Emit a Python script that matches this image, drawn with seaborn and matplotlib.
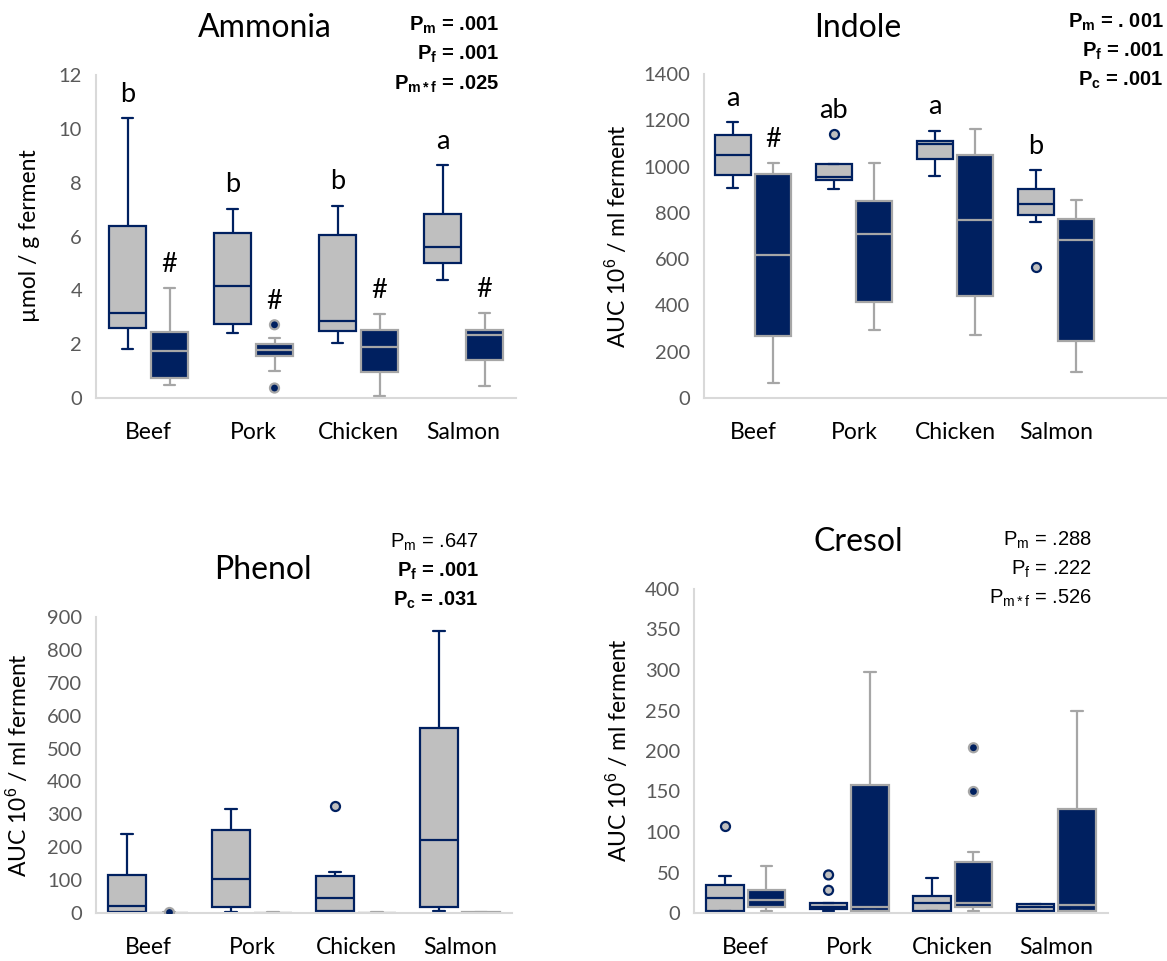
import numpy as np
import pandas as pd
import seaborn as sns
import matplotlib.pyplot as plt

meats = ["Beef", "Pork", "Chicken", "Salmon"]
groups = ["fresh", "fermented"]

# five-number summaries: [min, q1, median, q3, max]
ammonia_fresh = [[1.83, 2.60, 3.15, 6.40, 10.39],
                 [2.40, 2.76, 4.17, 6.12, 7.04],
                 [2.04, 2.50, 2.85, 6.04, 7.15],
                 [4.39, 5.01, 5.62, 6.84, 8.66]]
ammonia_ferm = [[0.47, 0.73, 1.73, 2.44, 4.07],
                [1.01, 1.57, 1.79, 2.00, 2.24],
                [0.06, 0.95, 1.88, 2.54, 3.13],
                [0.46, 1.42, 2.34, 2.54, 3.15]]
ammonia_outliers = [("Pork", "fermented", 2.72), ("Pork", "fermented", 0.37)]
ammonia_letters = ["b", "b", "b", "a"]
ammonia_marks = ["#", "#", "#", "#"]

indole_fresh = [[909, 965, 1050, 1137, 1191],
                [904, 942, 957, 1010, 1010],
                [960, 1032, 1096, 1111, 1155],
                [760, 790, 837, 904, 986]]
indole_ferm = [[63, 266, 619, 967, 1014],
               [295, 414, 708, 850, 1014],
               [271, 442, 767, 1049, 1164],
               [114, 247, 683, 774, 856]]
indole_outliers = [("Pork", "fresh", 1140), ("Salmon", "fresh", 568)]
indole_letters = ["a", "ab", "a", "b"]
indole_marks = ["#", "", "", ""]

phenol_fresh = [[0, 3, 20, 115, 241],
                [3, 18, 103, 253, 315],
                [3, 5, 45, 114, 124],
                [7, 17, 221, 562, 858]]
phenol_ferm = [[0, 0, 1, 1, 2],
               [0, 0, 1, 1, 2],
               [0, 0, 1, 1, 2],
               [0, 0, 1, 2, 3]]
phenol_outliers = [("Beef", "fermented", 4), ("Chicken", "fresh", 326)]

cresol_fresh = [[2, 3, 18, 34, 46],
                [2, 5, 8, 12, 12],
                [2, 3, 12, 21, 43],
                [2, 3, 7, 11, 11]]
cresol_ferm = [[2, 8, 16, 29, 58],
               [2, 3, 7, 158, 298],
               [2, 8, 12, 63, 75],
               [2, 3, 10, 128, 250]]
cresol_outliers = [("Beef", "fresh", 107), ("Pork", "fresh", 47), ("Pork", "fresh", 28),
                   ("Chicken", "fermented", 204), ("Chicken", "fermented", 150)]

NAVY = "#002060"
GREY = "#BFBFBF"
EDGE_GREY = "#A6A6A6"
palette = {"fresh": GREY, "fermented": NAVY}
linecolors = {"fresh": NAVY, "fermented": EDGE_GREY}

sns.set_style("white")
plt.rcParams["font.family"] = ["Lato", "DejaVu Sans"]
plt.rcParams["text.color"] = "black"
plt.rcParams["mathtext.fontset"] = "custom"
plt.rcParams["mathtext.rm"] = "Liberation Sans"
plt.rcParams["mathtext.bf"] = "Liberation Sans:bold"
plt.rcParams["mathtext.it"] = "Liberation Sans:italic"

W, H = 1167, 961
fig = plt.figure(figsize=(W / 100, H / 100), dpi=100)


def px_axes(left, top, right, bottom):
    return fig.add_axes([left / W, 1 - bottom / H, (right - left) / W, (bottom - top) / H])


def px_text(x, y, s, **kw):
    fig.text(x / W, 1 - y / H, s, **kw)


def long_form(fresh, ferm):
    rows = []
    for g, summ in (("fresh", fresh), ("fermented", ferm)):
        for meat, (mn, q1, md, q3, mx) in zip(meats, summ):
            # points whose quartiles reproduce the read summary
            for v in (mn, q1, q1, md, q3, q3, mx):
                rows.append((meat, g, v))
    return pd.DataFrame(rows, columns=["meat", "group", "value"])


def draw_panel(ax, fresh, ferm, outliers, ymax, ystep, xlim=(-0.5, 3.5),
               letters=None, marks=None):
    df = long_form(fresh, ferm)
    for g in groups:
        sns.boxplot(data=df[df["group"] == g], x="meat", y="value", hue="group",
                    order=meats, hue_order=groups, palette=palette, saturation=1,
                    dodge=True, width=0.8, gap=0.1, whis=(0, 100),
                    linecolor=linecolors[g], linewidth=1.6, showfliers=False,
                    legend=False, capwidths=0.11, ax=ax)
    out = pd.DataFrame(outliers, columns=["meat", "group", "value"])
    for g in groups:
        sub = out[out["group"] == g]
        if len(sub) == 0:
            continue
        sns.stripplot(data=sub, x="meat", y="value", hue="group", order=meats,
                      hue_order=groups, palette=palette, dodge=True, jitter=False,
                      size=6.5, linewidth=1.6, edgecolor=linecolors[g],
                      legend=False, ax=ax, zorder=5)

    # significance letters above each box
    offs = {"fresh": -0.2, "fermented": 0.2}
    for g, labels, summ in (("fresh", letters, fresh), ("fermented", marks, ferm)):
        if labels is None:
            continue
        for i, (meat, lab) in enumerate(zip(meats, labels)):
            if not lab:
                continue
            top = max([summ[i][4]] + [v for m, gg, v in outliers if m == meat and gg == g])
            ax.text(i + offs[g], top + 0.05 * ymax, lab, ha="center", va="baseline",
                    fontsize=19.5, color="black")

    ax.set_xlim(*xlim)
    ax.set_ylim(0, ymax)
    ax.set_yticks(np.arange(0, ymax + ystep / 2, ystep))
    ax.set_xlabel("")
    ax.set_ylabel("")
    sns.despine(ax=ax)
    for side in ("left", "bottom"):
        ax.spines[side].set_color("#D9D9D9")
        ax.spines[side].set_linewidth(1.5)
    ax.tick_params(axis="y", length=0, pad=10, labelsize=14.5, labelcolor="#595959")
    ax.tick_params(axis="x", length=0, pad=17, labelsize=16.5, labelcolor="black")


ax1 = px_axes(96, 75, 516, 398)
draw_panel(ax1, ammonia_fresh, ammonia_ferm, ammonia_outliers, 12, 2,
           letters=ammonia_letters, marks=ammonia_marks)
ax2 = px_axes(704, 74, 1167, 398)
draw_panel(ax2, indole_fresh, indole_ferm, indole_outliers, 1400, 200,
           xlim=(-0.485, 4.10), letters=indole_letters, marks=indole_marks)
ax3 = px_axes(96, 617, 512, 913)
draw_panel(ax3, phenol_fresh, phenol_ferm, phenol_outliers, 900, 100)
ax4 = px_axes(694, 589, 1108, 913)
draw_panel(ax4, cresol_fresh, cresol_ferm, cresol_outliers, 400, 50)

# titles
title_kw = dict(ha="center", va="center", fontsize=23, color="black")
px_text(265, 28, "Ammonia", **title_kw)
px_text(858, 28, "Indole", **title_kw)
px_text(263, 570, "Phenol", **title_kw)
px_text(858, 542, "Cresol", **title_kw)

# y labels
yl_kw = dict(ha="center", va="center", rotation=90, fontsize=16.5, color="black")
px_text(30, 236, "µmol / g ferment", **yl_kw)
px_text(617, 236, "AUC 10$^{6}$ / ml ferment", **yl_kw)
px_text(18, 765, "AUC 10$^{6}$ / ml ferment", **yl_kw)
px_text(618, 750, "AUC 10$^{6}$ / ml ferment", **yl_kw)

# p-values
pb = dict(ha="right", va="center", fontsize=14.5, family="Liberation Sans",
          fontweight="bold", color="black")
pn = dict(ha="right", va="center", fontsize=14.5, family="Liberation Sans", color="black")
px_text(499, 25, r"P$_{\mathbf{m}}$ = .001", **pb)
px_text(499, 54, r"P$_{\mathbf{f}}$ = .001", **pb)
px_text(499, 84, r"P$_{\mathbf{m*f}}$ = .025", **pb)

px_text(1164, 22, r"P$_{\mathbf{m}}$ = . 001", **pb)
px_text(1164, 51, r"P$_{\mathbf{f}}$ = .001", **pb)
px_text(1164, 80, r"P$_{\mathbf{c}}$ = .001", **pb)

px_text(479, 542, r"P$_{\mathrm{m}}$ = .647", **pn)
px_text(479, 571, r"P$_{\mathbf{f}}$ = .001", **pb)
px_text(479, 600, r"P$_{\mathbf{c}}$ = .031", **pb)

px_text(1092, 540, r"P$_{\mathrm{m}}$ = .288", **pn)
px_text(1092, 569, r"P$_{\mathrm{f}}$ = .222", **pn)
px_text(1092, 598, r"P$_{\mathrm{m*f}}$ = .526", **pn)

fig.savefig("out.png", dpi=100)
